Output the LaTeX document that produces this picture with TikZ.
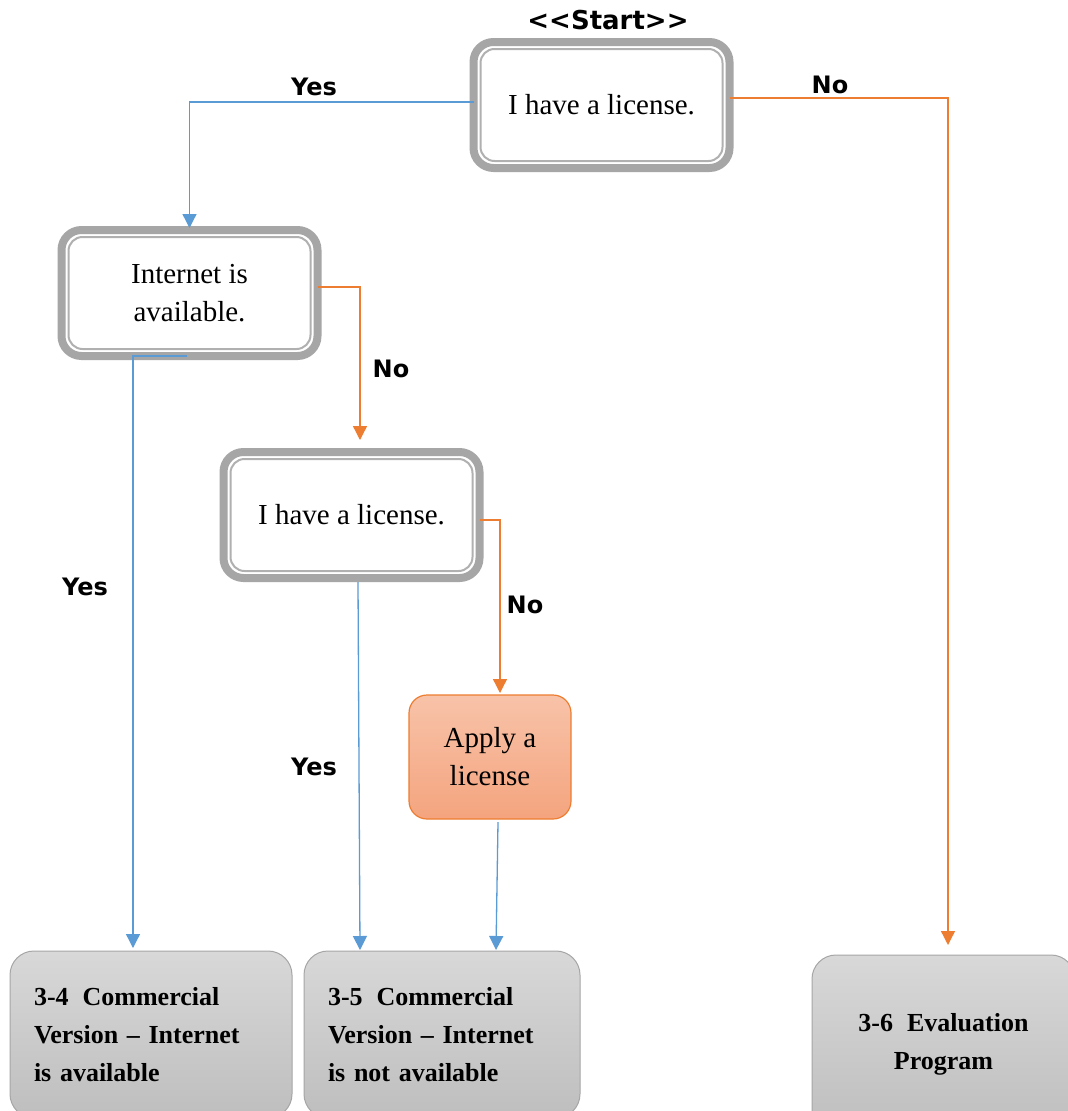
\documentclass[tikz,border=0pt]{standalone}
\usepackage{fontspec}
\setmainfont{Liberation Serif}
\newfontfamily\labfont{DejaVu Sans}
\usetikzlibrary{arrows.meta}
\definecolor{bl}{HTML}{5B9BD5}
\definecolor{orn}{HTML}{ED7D31}
\definecolor{gr}{HTML}{A6A6A6}
\definecolor{grin}{HTML}{B0B0B0}
\begin{document}
\begin{tikzpicture}[x=1pt,y=-1pt,
  decision/.style={draw=gr, line width=8pt, rounded corners=20pt, fill=white,
    minimum width=256pt, minimum height=126pt, outer sep=0pt, align=center,
    font=\fontsize{29}{38}\selectfont},
  innerline/.style={draw=grin, line width=2pt, rounded corners=14pt},
  applybox/.style={draw=orn, line width=1.2pt, rounded corners=18pt,
    top color={rgb,255:red,248;green,195;blue,169}, bottom color={rgb,255:red,244;green,164;blue,126},
    minimum width=162pt, minimum height=124pt, outer sep=0pt, align=center,
    font=\fontsize{29}{38}\selectfont},
  endbox/.style={draw=gr, line width=1pt, rounded corners=24pt,
    top color={rgb,255:red,216;green,216;blue,216}, bottom color={rgb,255:red,190;green,190;blue,190},
    outer sep=0pt, inner xsep=24pt, minimum height=167pt, anchor=north west,
    font=\fontsize{26}{38}\selectfont\bfseries},
  lab/.style={font=\labfont\bfseries\fontsize{24}{28}\selectfont},
  arr/.style={line width=1.3pt, -{Triangle[width=14pt,length=14pt]}},
  barrow/.style={arr, draw=bl},
  oarrow/.style={arr, draw=orn},
]
\clip (0,0) rectangle (1068,1111);
\fill[white] (0,0) rectangle (1068,1111);

% decision boxes
\node[decision] (b1) at (601.5,105) {I have a license.};
\draw[innerline] ([xshift=7pt,yshift=-7pt]b1.north west) rectangle ([xshift=-7pt,yshift=7pt]b1.south east);
\node[decision] (b2) at (189.5,293) {Internet is\\available.};
\draw[innerline] ([xshift=7pt,yshift=-7pt]b2.north west) rectangle ([xshift=-7pt,yshift=7pt]b2.south east);
\node[decision] (b3) at (351.5,515) {I have a license.};
\draw[innerline] ([xshift=7pt,yshift=-7pt]b3.north west) rectangle ([xshift=-7pt,yshift=7pt]b3.south east);

\node[font=\labfont\bfseries\fontsize{26}{30}\selectfont] (start) at (608,20) {<<Start>>};

% apply box
\node[applybox] (ap) at (490,757) {Apply a\\license};

% end boxes
\node[endbox, minimum width=282pt, text width=234pt, align=left] (bA) at (10,951)
  {3-4\hspace{14pt}Commercial\\Version -- Internet\\is available};
\node[endbox, minimum width=276pt, text width=228pt, align=left] (bB) at (304,951)
  {3-5\hspace{14pt}Commercial\\Version -- Internet\\is not available};
\node[endbox, minimum width=263pt, minimum height=178pt, text width=215pt, align=center] (bC) at (812,955)
  {3-6\hspace{14pt}Evaluation\\Program};

% connectors
\draw[barrow] ([yshift=3pt]b1.west) -| ([yshift=2pt]b2.north);
\draw[oarrow] ([yshift=7pt]b1.east) -| ([xshift=4.5pt,yshift=10pt]bC.north);
\draw[oarrow] ([yshift=6pt]b2.east) -| ([xshift=8.5pt,yshift=12pt]b3.north);
\draw[barrow] ([xshift=-2.5pt]b2.south) -| ([xshift=-18pt,yshift=3pt]bA.north);
\draw[oarrow] ([yshift=-5pt]b3.east) -| ([xshift=10pt,yshift=2pt]ap.north);
\draw[barrow] ([xshift=6.5pt,yshift=-4pt]b3.south) -- ([xshift=-82pt,yshift=1pt]bB.north);
\draw[barrow] ([xshift=8pt,yshift=-3pt]ap.south) -- ([xshift=54pt,yshift=1pt]bB.north);

% labels
\node[lab] (l1) at (314,87) {Yes};
\node[lab] (l2) at (830,85) {No};
\node[lab] (l3) at (391,369) {No};
\node[lab] (l4) at (85,587) {Yes};
\node[lab] (l5) at (525,605) {No};
\node[lab] (l6) at (314,767) {Yes};
\end{tikzpicture}
\end{document}
